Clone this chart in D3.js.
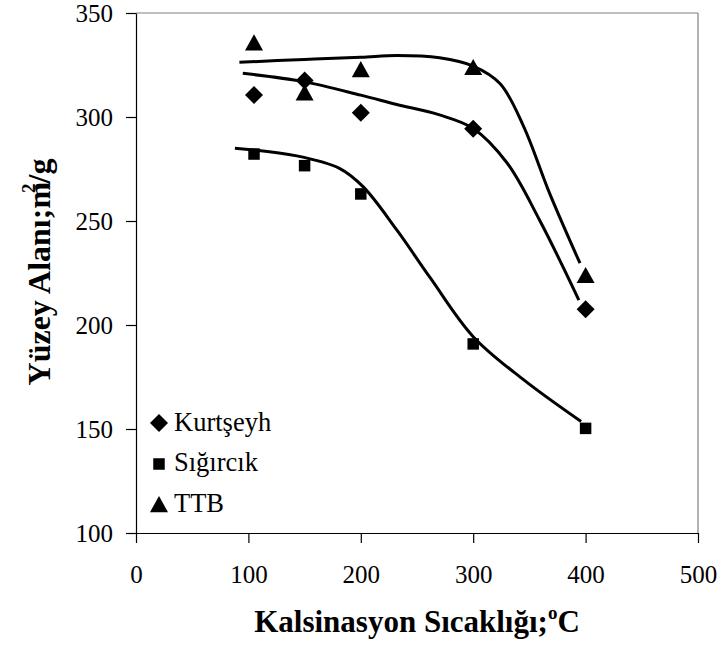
<!DOCTYPE html>
<html>
<head>
<meta charset="utf-8">
<script src="https://cdn.jsdelivr.net/npm/d3@7/dist/d3.min.js"></script>
<style>
  html, body { margin: 0; padding: 0; background: #fff; }
  svg { display: block; }
  text { font-family: "Liberation Serif", "Times New Roman", serif; fill: #000; }
</style>
</head>
<body>
<svg id="chart" width="724" height="652"></svg>
<script>
// ---- data ----
const seriesNames = ["Kurtşeyh", "Sığırcık", "TTB"];
const tempX = [105, 150, 200, 300, 400];
const kurtseyhY = [310.6, 317.6, 302.1, 294.3, 207.6];
const sigircikY = [282.2, 276.6, 263.0, 190.9, 150.3];
const ttbY = [335.4, 311.4, 322.6, 323.6, 223.6];

// smoothed trend lines as drawn in the picture
const kurtseyhFitX = [95, 149, 200, 232, 270, 300, 330, 359, 394];
const kurtseyhFitY = [321, 317, 310.5, 306, 301, 294.5, 278, 250.5, 212];
const sigircikFitX = [88, 143, 181, 202, 232, 262, 300, 345, 396];
const sigircikFitY = [285, 281.3, 275.3, 266.5, 245.7, 222.5, 194.4, 173.6, 153.6];
const ttbFitX = [92, 150, 200, 232, 270, 300, 324, 345, 368, 395];
const ttbFitY = [326.3, 327.7, 328.7, 329.6, 328.5, 324.5, 316, 295.3, 263.3, 229.7];

const xTicks = [0, 100, 200, 300, 400, 500];
const yTicks = [100, 150, 200, 250, 300, 350];

// ---- layout ----
const svg = d3.select("#chart");
const x = d3.scaleLinear().domain([0, 500]).range([136, 698]);
const y = d3.scaleLinear().domain([100, 350]).range([533, 13]);

// custom symbols
const diamond = { draw(ctx, size) { const r = Math.sqrt(size) / 2; ctx.moveTo(0, -r); ctx.lineTo(r, 0); ctx.lineTo(0, r); ctx.lineTo(-r, 0); ctx.closePath(); } };
const square = { draw(ctx, size) { const s = Math.sqrt(size) / 2; ctx.rect(-s, -s, 2 * s, 2 * s); } };
const triangle = { draw(ctx, size) { const w = Math.sqrt(size) / 2; ctx.moveTo(0, -w); ctx.lineTo(w, w * 0.8); ctx.lineTo(-w, w * 0.8); ctx.closePath(); } };

const series = [
  { name: seriesNames[0], ys: kurtseyhY, fx: kurtseyhFitX, fy: kurtseyhFitY, sym: diamond, size: 18 * 18, lsize: 18 * 18 },
  { name: seriesNames[1], ys: sigircikY, fx: sigircikFitX, fy: sigircikFitY, sym: square, size: 11.5 * 11.5, lsize: 11.5 * 11.5 },
  { name: seriesNames[2], ys: ttbY, fx: ttbFitX, fy: ttbFitY, sym: triangle, size: 18 * 18, lsize: 18 * 18 }
];

// frame (top and right, gray)
svg.append("line").attr("x1", x(0)).attr("x2", x(500)).attr("y1", y(350)).attr("y2", y(350))
  .attr("stroke", "#808080").attr("stroke-width", 1.2);
svg.append("line").attr("x1", x(500)).attr("x2", x(500)).attr("y1", y(350)).attr("y2", y(100))
  .attr("stroke", "#808080").attr("stroke-width", 1.2);

// axes
const yAxis = svg.append("g").attr("transform", `translate(${x(0)},0)`)
  .call(d3.axisLeft(y).tickValues(yTicks).tickSize(10).tickSizeOuter(0).tickPadding(13).tickFormat(d3.format("d")));
const xAxis = svg.append("g").attr("transform", `translate(0,${y(100)})`)
  .call(d3.axisBottom(x).tickValues(xTicks).tickSize(10).tickSizeOuter(0).tickPadding(22).tickFormat(d3.format("d")));
[yAxis, xAxis].forEach(g => {
  g.selectAll("path, line").attr("stroke", "#000").attr("stroke-width", 1.2);
  g.selectAll("text").attr("font-size", 25).attr("font-family", "Liberation Serif, Times New Roman, serif").attr("fill", "#000");
});

// curves
const line = d3.line().x(d => x(d[0])).y(d => y(d[1])).curve(d3.curveCatmullRom.alpha(0.5));
series.forEach(s => {
  const pts = s.fx.map((v, i) => [v, s.fy[i]]);
  svg.append("path").attr("d", line(pts)).attr("fill", "none").attr("stroke", "#000").attr("stroke-width", 3);
});

// markers
series.forEach(s => {
  svg.append("g").selectAll("path").data(tempX.map((v, i) => [v, s.ys[i]])).join("path")
    .attr("transform", d => `translate(${x(d[0])},${y(d[1])})`)
    .attr("d", d3.symbol().type(s.sym).size(s.size))
    .attr("fill", "#000");
});

// legend
const legendBase = [430.5, 471, 511.5];
const legendMarkY = [423, 464, 505];
series.forEach((s, i) => {
  svg.append("path").attr("transform", `translate(159,${legendMarkY[i]})`)
    .attr("d", d3.symbol().type(s.sym).size(s.lsize)).attr("fill", "#000");
  svg.append("text").attr("x", 174).attr("y", legendBase[i]).attr("font-size", 26.5).text(s.name);
});

// axis titles
const xt = svg.append("text").attr("x", 417).attr("y", 632).attr("text-anchor", "middle")
  .attr("font-size", 31).attr("font-weight", "bold");
xt.append("tspan").text("Kalsinasyon Sıcaklığı;");
xt.append("tspan").attr("font-size", 19).attr("dy", -13).text("o");
xt.append("tspan").attr("dy", 13).text("C");

const yt = svg.append("text").attr("transform", "translate(50,272) rotate(-90)").attr("text-anchor", "middle")
  .attr("font-size", 32).attr("font-weight", "bold");
yt.append("tspan").text("Yüzey Alanı;m");
yt.append("tspan").attr("font-size", 19).attr("dy", -15).attr("dx", -11).text("2");
yt.append("tspan").attr("dy", 15).text("/g");
</script>
</body>
</html>
